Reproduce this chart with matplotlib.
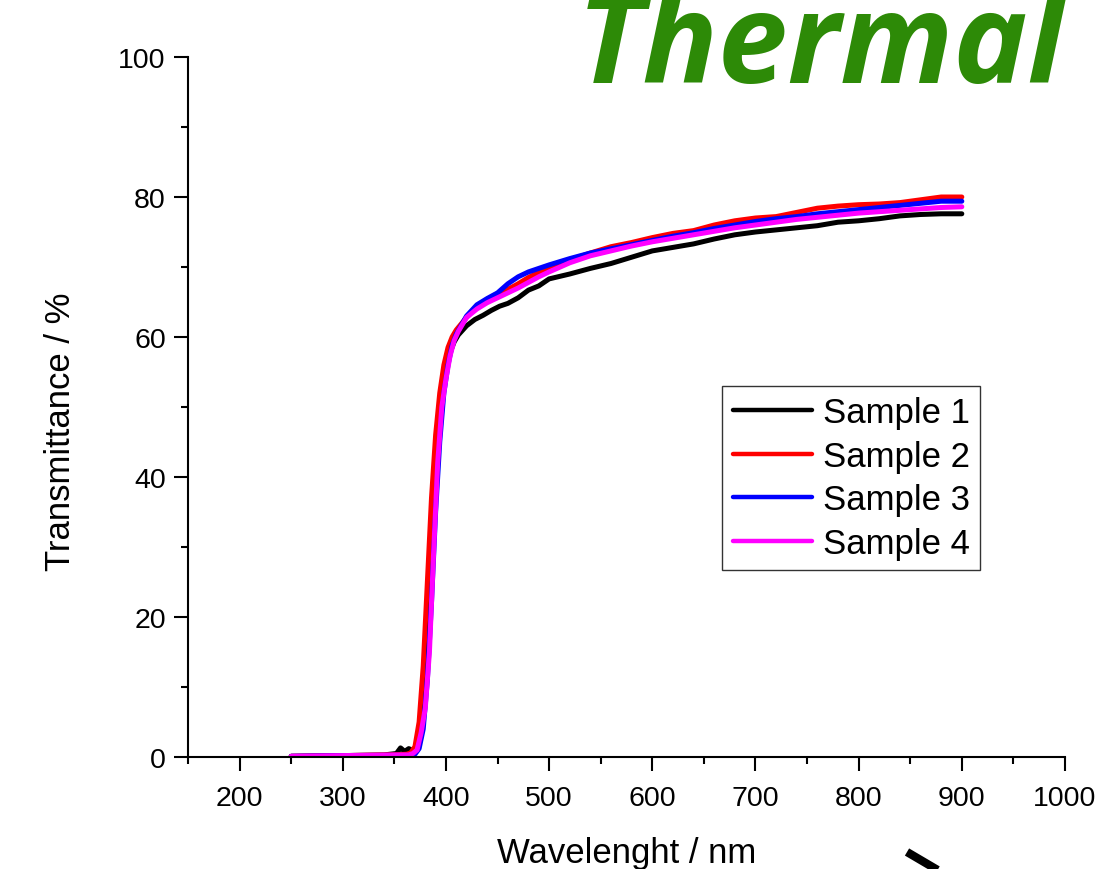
import numpy as np
import matplotlib
matplotlib.use("Agg")
import matplotlib.pyplot as plt
from matplotlib.ticker import MultipleLocator

plt.rcParams['font.family'] = ['Liberation Sans', 'DejaVu Sans']

# Sample 1 (black)
wl1 = [250, 300, 340, 352, 356, 360, 364, 368, 372, 376, 380, 384, 388, 392, 396,
       400, 404, 408, 412, 420, 428, 436, 444, 452, 460, 470, 480, 490, 500, 520,
       540, 560, 580, 600, 620, 640, 660, 680, 700, 720, 740, 760, 780, 800, 820,
       840, 860, 880, 900]
t1 = [0.1, 0.2, 0.3, 0.5, 1.3, 0.8, 1.2, 0.9, 1.0, 3, 9, 20, 33, 44, 51,
      55.5, 57.8, 59.3, 60.3, 61.6, 62.5, 63.1, 63.8, 64.4, 64.8, 65.6, 66.7, 67.3, 68.3, 69.0,
      69.8, 70.5, 71.4, 72.3, 72.8, 73.3, 74.0, 74.6, 75.0, 75.3, 75.6, 75.9, 76.4, 76.6, 76.9,
      77.3, 77.5, 77.6, 77.6]

# Sample 2 (red)
wl2 = [250, 300, 350, 362, 366, 370, 374, 378, 382, 386, 390, 394, 398, 402, 406,
       410, 420, 430, 440, 450, 460, 470, 480, 500, 520, 540, 560, 580, 600, 620,
       640, 660, 680, 700, 720, 740, 760, 780, 800, 820, 840, 860, 880, 900]
t2 = [0.1, 0.2, 0.3, 0.4, 0.6, 1.5, 5, 13, 25, 37, 46, 52, 56, 58.5, 60,
      61, 62.8, 64.3, 65.4, 66.2, 66.8, 67.6, 68.5, 70.0, 71.0, 72.0, 72.9, 73.5, 74.2, 74.8,
      75.2, 76.0, 76.6, 77.0, 77.2, 77.8, 78.4, 78.7, 78.9, 79.0, 79.2, 79.6, 80.0, 80.0]

# Sample 3 (blue)
wl3 = [250, 300, 350, 366, 370, 374, 378, 382, 386, 390, 394, 398, 402, 406, 410,
       420, 430, 440, 450, 460, 470, 480, 500, 520, 540, 560, 580, 600, 620, 640,
       660, 680, 700, 720, 740, 760, 780, 800, 820, 840, 860, 880, 900]
t3 = [0.1, 0.2, 0.2, 0.2, 0.4, 1.2, 4, 11, 22, 35, 45, 52, 56, 58.8, 60.4,
      63.0, 64.6, 65.5, 66.3, 67.6, 68.6, 69.3, 70.3, 71.2, 72.0, 72.6, 73.2, 73.8, 74.4, 74.9,
      75.5, 76.0, 76.5, 76.9, 77.2, 77.6, 77.9, 78.2, 78.5, 78.8, 79.1, 79.4, 79.4]

# Sample 4 (magenta)
wl4 = [250, 300, 350, 364, 368, 372, 376, 380, 384, 388, 392, 396, 400, 404, 408,
       412, 420, 430, 440, 450, 460, 470, 480, 490, 500, 520, 540, 560, 580, 600,
       620, 640, 660, 680, 700, 720, 740, 760, 780, 800, 820, 840, 860, 880, 900]
t4 = [0.1, 0.2, 0.3, 0.3, 0.5, 1.0, 3.5, 7, 15, 29, 42, 50, 54, 57.3, 59.5,
      60.8, 62.8, 64.0, 64.9, 65.6, 66.3, 67.0, 67.8, 68.6, 69.3, 70.6, 71.6, 72.3, 73.0, 73.6,
      74.1, 74.6, 75.1, 75.6, 76.0, 76.4, 76.8, 77.1, 77.4, 77.7, 77.9, 78.1, 78.3, 78.5, 78.6]

labels = ["Sample 1", "Sample 2", "Sample 3", "Sample 4"]
colors = ["black", "#ff0000", "#0000ff", "#ff00ff"]

fig = plt.figure(figsize=(10.97, 8.70), dpi=100)
ax = fig.add_axes([188 / 1097, 112 / 870, 877 / 1097, 700 / 870])

for wl, t, lab, c in zip([wl1, wl2, wl3, wl4], [t1, t2, t3, t4], labels, colors):
    ax.plot(wl, t, color=c, lw=3.6, label=lab, solid_capstyle="round")

ax.set_xlim(150, 1000)
ax.set_ylim(0, 100)
ax.spines["top"].set_visible(False)
ax.spines["right"].set_visible(False)
for s in ["left", "bottom"]:
    ax.spines[s].set_linewidth(1.5)
ax.xaxis.set_major_locator(MultipleLocator(100))
ax.xaxis.set_minor_locator(MultipleLocator(50))
ax.yaxis.set_major_locator(MultipleLocator(20))
ax.yaxis.set_minor_locator(MultipleLocator(10))
ax.tick_params(which="major", direction="out", length=10, width=1.5, labelsize=20.5)
ax.tick_params(which="minor", direction="out", length=5, width=1.5)
ax.tick_params(axis="x", which="major", pad=10)
ax.tick_params(axis="y", which="major", pad=6)
ax.set_xticks([200, 300, 400, 500, 600, 700, 800, 900, 1000])

ax.set_xlabel("Wavelenght / nm", fontsize=25)
ax.set_ylabel("Transmittance / %", fontsize=25)
ax.xaxis.set_label_coords(0.5, -0.113)
ax.yaxis.set_label_coords(-0.126, 0.466)

leg = ax.legend(loc="upper left", bbox_to_anchor=(0.609, 0.53), borderaxespad=0,
                fontsize=25, handlelength=2.3, handletextpad=0.3, labelspacing=0.3,
                fancybox=False, frameon=True, borderpad=0.3)
leg.get_frame().set_edgecolor("black")
leg.get_frame().set_linewidth(1.0)
for line in leg.get_lines():
    line.set_linewidth(3.2)

# title text, cut by the top edge
fig.text(1065 / 1097, 1 - 83 / 870, "Thermal", fontsize=90, fontweight="bold",
         fontstyle="italic", family="Open Sans", color="#2d8a07",
         ha="right", va="baseline")

# partial arrow at bottom right
fig.add_artist(plt.Line2D([907 / 1097, 975 / 1097], [1 - 853 / 870, 1 - 893 / 870],
                          color="black", lw=6, solid_capstyle="butt"))

fig.savefig("out.png", dpi=100)
